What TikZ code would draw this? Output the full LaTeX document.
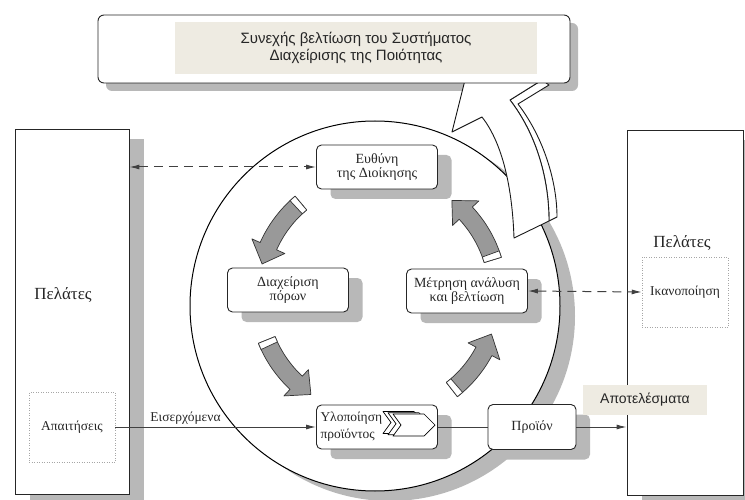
\documentclass[tikz,border=0pt]{standalone}
\usepackage{fontspec}
\setmainfont{Liberation Serif}
\setsansfont{Liberation Sans}
\usetikzlibrary{positioning,calc,arrows.meta,shadows}
\definecolor{shadowgray}{gray}{0.72}
\definecolor{arrowgray}{gray}{0.6}
\definecolor{beige}{HTML}{EEEBE2}
\tikzset{
  box/.style={draw=black!85, rounded corners=5pt, fill=white, line width=0.9pt,
    minimum width=121pt, minimum height=44pt, align=center, inner sep=2pt,
    font=\fontsize{14}{14}\selectfont, text=black!85,
    general shadow={fill=shadowgray, shadow xshift=14pt, shadow yshift=-10pt}},
  client/.style={draw=black!85, fill=white, line width=0.8pt,
    minimum width=114pt, minimum height=365pt,
    general shadow={fill=shadowgray, shadow xshift=15pt, shadow yshift=-10pt}},
  dotbox/.style={draw=black!35, dotted, line width=0.5pt, text=black!85,
    minimum width=86pt, minimum height=70pt, font=\fontsize{13.5}{13.5}\selectfont},
  dline/.style={dash pattern=on 9pt off 6pt, line width=1pt, black!75,
    {Latex[length=10pt,width=5pt]}-{Latex[length=10pt,width=5pt]}},
  sline/.style={line width=1pt, black!75, -{Latex[length=10pt,width=5pt]}},
  cycarr/.style={fill=arrowgray, draw=black!80, line width=0.7pt, line join=round},
  bigarr/.style={fill=white, draw=black!90, line width=0.9pt, line join=round}
}
% one grey block arrow of the inner cycle, from angle #1 to angle #2
\newcommand{\cycarrow}[2]{%
  \draw[cycarr] (#1:129) arc[start angle=#1, end angle=#2+9, radius=129]
    -- (#2+9:138) -- (#2:120) -- (#2+9:102) -- (#2+9:111)
    arc[start angle=#2+9, end angle=#1, radius=111] -- cycle;
  \draw[cycarr, fill=white] (#1:111) -- (#1:129) -- (#1-3:129) -- (#1-3:111) -- cycle;
}

\begin{document}
\begin{tikzpicture}[x=1pt, y=-1pt]
    \useasboundingbox (0,0) rectangle (745,500);
    \clip (0,0) rectangle (745,500);

    % circle with its shadow
    \fill[shadowgray] (390,316) circle[radius=185];
    \draw[fill=white, line width=1pt] (375,306) circle[radius=185];

    % banner shadow, then the big arrow going up into the banner
    \fill[shadowgray, rounded corners=6pt] (106,23) rectangle (578,91);
    \draw[bigarr] (542,80) -- (549,85) -- (518,104) .. controls (544,138) and (557,182) .. (557,217)
        -- (549,221) .. controls (549,180) and (537,135) .. (510,100) -- cycle;
    \draw[bigarr] (514,238) .. controls (512,180) and (500,140) .. (482,117) -- (452,132)
        -- (470,60) -- (542,80) -- (510,100) .. controls (537,135) and (549,180) .. (549,221) -- cycle;

    \node[draw=black!85, rounded corners=6pt, line width=0.9pt, fill=white,
        minimum width=472pt, minimum height=68pt] (banner) at (334,49) {};
    \node[fill=beige, minimum width=362pt, minimum height=52pt, align=center,
        font=\sffamily\fontsize{15}{17}\selectfont, text=black!85] (title) at (356,48)
        {Συνεχής βελτίωση του Συστήματος\\Διαχείρισης της Ποιότητας};

    % inner cycle
    \begin{scope}[shift={(378,295)}]
        \cycarrow{230}{195}
        \cycarrow{158}{124}
        \cycarrow{52}{19}
        \cycarrow{343}{308}
    \end{scope}

    % customers
    \node[client] (lclient) at (72,312) {};
    \node[client, minimum width=116pt] (rclient) at (685,313) {};
    \node[font=\fontsize{17}{17}\selectfont, text=black!85] (lcl) at (63,295) {Πελάτες};
    \node[font=\fontsize{17}{17}\selectfont, text=black!85] (rcl) at (682,243) {Πελάτες};
    \node[dotbox] (apait) at (72,427) {Απαιτήσεις};
    \node[dotbox] (ikan) at (685,292) {Ικανοποίηση};

    % processes
    \node[box] (euth) at (377,167) {Ευθύνη\\της Διοίκησης};
    \node[box] (diax) at (288,290) {Διαχείριση\\πόρων};
    \node[box] (metr) at (467,291) {Μέτρηση ανάλυση\\και βελτίωση};
    \node[box, text width=113pt, align=left, font=\fontsize{13.5}{17}\selectfont] (ylop) at (377,427)
        {Υλοποίηση\\προϊόντος};
    \node[box, minimum width=88pt, minimum height=45pt] (proion) at (532,427) {Προϊόν};

    \begin{scope}[shift={(ylop.center)}]
        \foreach \d in {10,5,0}
            \draw[fill=white, line width=0.7pt, line join=round, shift={(-\d,-\d/4)}]
                (16,-13) -- (47,-13) -- (58,-2) -- (47,9) -- (16,9) -- (24,-2) -- cycle;
    \end{scope}

    \node[fill=beige, minimum width=124pt, minimum height=30pt,
        font=\sffamily\fontsize{14}{14}\selectfont, text=black!85] (apot) at (645,400) {Αποτελέσματα};

    % connectors
    \draw[dline] (lclient.east |- euth.west) -- (euth.west);
    \draw[dline] (metr.east) -- (ikan.west);
    \draw[sline] (apait.east) -- node[pos=0.35, above=-1pt, font=\fontsize{13.5}{13.5}\selectfont,
        text=black!85] {Εισερχόμενα} (ylop.west);
    \draw[line width=1pt, black!75] (ylop.east) -- (proion.west);
    \draw[sline] (proion.east) -- (proion.east -| rclient.west);
\end{tikzpicture}
\end{document}
